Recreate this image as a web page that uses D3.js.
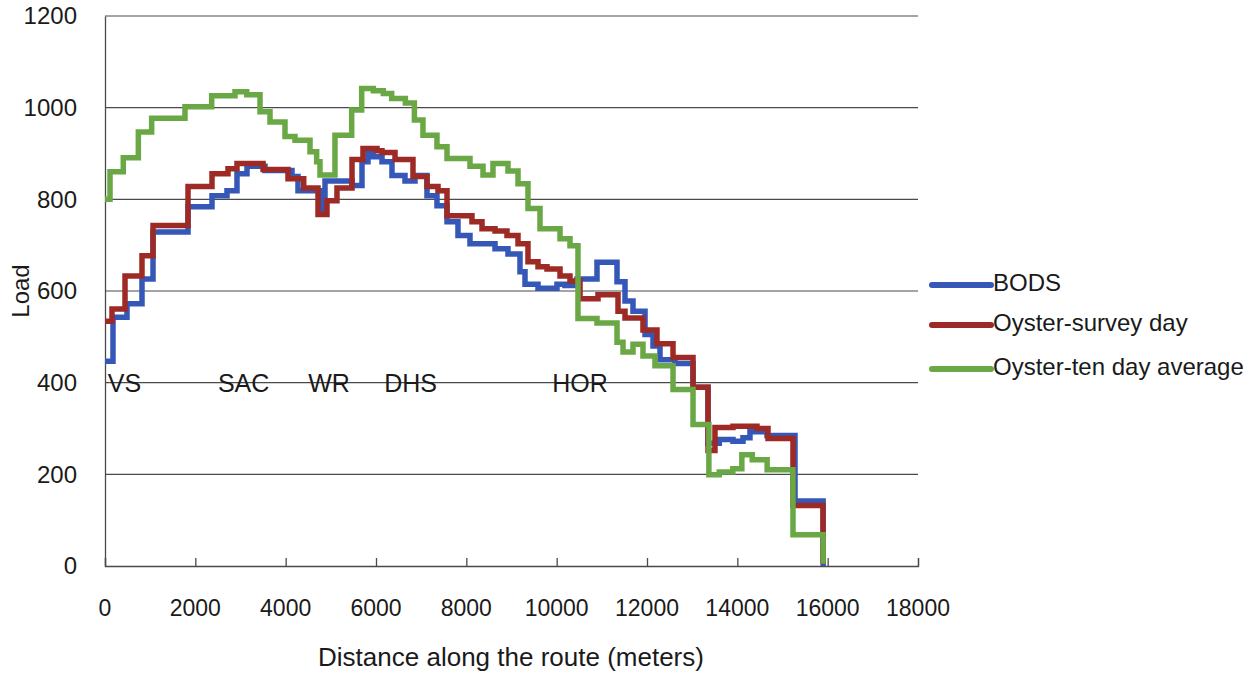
<!DOCTYPE html>
<html>
<head>
<meta charset="utf-8">
<script src="https://cdn.jsdelivr.net/npm/d3@7"></script>
<style>
  html, body { margin: 0; padding: 0; background: #ffffff; }
  svg { display: block; }
</style>
</head>
<body>
<svg id="chart" width="1257" height="675"></svg>
<script>
// ---- Data (distance in metres, load) : step series ----
const bodsSteps = [
  [0,447],[177,543],[487,572],[819,626],[1063,729],[1838,784],[2369,808],[2701,819],[2922,856],[3144,872],
  [3542,863],[4140,850],[4273,819],[4760,775],[4871,840],[5469,830],[5690,882],[5823,900],[5934,893],[6133,882],
  [6354,852],[6642,840],[6863,852],[7129,808],[7350,786],[7572,751],[7815,721],[8081,703],[8635,692],[8922,681],
  [9188,642],[9299,615],[9587,606],[10007,615],[10184,612],[10450,626],[10893,663],[11336,620],[11513,578],[11690,556],
  [11956,505],[12133,480],[12288,450],[12620,442],[13019,390],[13351,268],[13600,276],[13904,272],[14125,280],[14280,293],
  [14657,285],[15277,142],[15900,0]
];
const oysterSurveySteps = [
  [0,534],[155,561],[443,633],[819,677],[1063,743],[1838,828],[2369,856],[2723,867],[2922,878],[3500,865],
  [4052,845],[4400,825],[4716,767],[4915,797],[5136,825],[5469,887],[5712,911],[6022,906],[6133,902],[6421,887],
  [6819,850],[7129,828],[7373,819],[7572,764],[8125,751],[8347,736],[8635,731],[8900,721],[9144,703],[9365,664],
  [9587,653],[9786,648],[10074,633],[10295,622],[10517,583],[10915,592],[11358,556],[11513,541],[11911,515],[12221,485],
  [12576,455],[13019,390],[13351,252],[13505,302],[13904,305],[14435,300],[14679,278],[15232,132],[15897,5]
];
const oysterTenDaySteps = [
  [0,800],[111,860],[405,891],[738,947],[1033,977],[1771,1002],[2362,1026],[2878,1035],[3137,1028],[3432,991],
  [3653,969],[3985,937],[4207,929],[4539,904],[4686,882],[4760,853],[5092,940],[5462,995],[5683,1042],[5941,1037],
  [6162,1031],[6347,1020],[6650,1010],[6850,973],[7040,940],[7350,915],[7572,889],[8081,872],[8369,853],[8590,878],
  [8922,862],[9144,834],[9365,780],[9631,736],[10074,714],[10295,699],[10472,540],[10893,530],[11336,488],[11469,467],
  [11690,484],[11911,458],[12177,437],[12576,385],[13019,309],[13370,199],[13600,205],[13900,212],[14100,243],[14330,232],
  [14660,210],[15232,68],[15900,5]
];
const seriesNames = ["BODS", "Oyster-survey day", "Oyster-ten day average"];
const seriesColors = ["#3457b8", "#9e2a26", "#6aa845"];
const xTicks = [0,2000,4000,6000,8000,10000,12000,14000,16000,18000];
const yTicks = [0,200,400,600,800,1000,1200];
const stopLabels = ["VS","SAC","WR","DHS","HOR"];
const stopPositions = [60, 2500, 4500, 6180, 9900];
const stopLoad = 393;

// ---- Layout ----
const svg = d3.select("#chart");
const x = d3.scaleLinear().domain([0, 18000]).range([105, 918]);
const y = d3.scaleLinear().domain([0, 1200]).range([566, 16]);
const font = "'Liberation Sans',Arial,sans-serif";

// gridlines
svg.append("g").selectAll("line").data(yTicks.filter(d => d > 0)).join("line")
  .attr("x1", x(0)).attr("x2", x(18000))
  .attr("y1", d => y(d)).attr("y2", d => y(d))
  .attr("stroke", "#4a4a4a").attr("stroke-width", 1.2);

// x axis (ticks pointing inside)
const xAxis = d3.axisTop(x).tickValues(xTicks).tickSize(8).tickFormat("");
const gx = svg.append("g").attr("transform", `translate(0,${y(0)})`).call(xAxis);
gx.select(".domain").attr("stroke", "#4a4a4a").attr("stroke-width", 1.3);
gx.selectAll(".tick line").attr("stroke", "#4a4a4a").attr("stroke-width", 1.3);

// x labels
svg.append("g").selectAll("text").data(xTicks).join("text")
  .attr("x", d => x(d)).attr("y", 610)
  .attr("text-anchor", "middle").attr("dominant-baseline", "middle")
  .attr("font-family", font)
  .attr("font-size", 23).attr("fill", "#1a1a1a")
  .text(d => d);

// y axis
const yAxis = d3.axisLeft(y).tickValues(yTicks).tickSize(0).tickPadding(28).tickFormat(d => d);
const gy = svg.append("g").attr("transform", `translate(${x(0)},0)`).call(yAxis);
gy.select(".domain").attr("stroke", "#4a4a4a").attr("stroke-width", 1.3);
gy.selectAll(".tick text")
  .attr("font-family", font)
  .attr("font-size", 24).attr("fill", "#1a1a1a");

// axis titles
svg.append("text")
  .attr("transform", `translate(23,${y(600)}) rotate(-90)`)
  .attr("text-anchor", "middle").attr("dominant-baseline", "middle")
  .attr("font-family", font)
  .attr("font-size", 24).attr("fill", "#1a1a1a")
  .text("Load");
svg.append("text")
  .attr("x", 511).attr("y", 659)
  .attr("text-anchor", "middle").attr("dominant-baseline", "middle")
  .attr("font-family", font)
  .attr("font-size", 26).attr("fill", "#1a1a1a")
  .text("Distance along the route (meters)");

// series
const line = d3.line().x(d => x(d[0])).y(d => y(d[1])).curve(d3.curveStepAfter);
const allSeries = [bodsSteps, oysterSurveySteps, oysterTenDaySteps];
svg.append("g").selectAll("path").data(allSeries).join("path")
  .attr("d", d => line(d))
  .attr("fill", "none")
  .attr("stroke", (d, i) => seriesColors[i])
  .attr("stroke-width", 5.5)
  .attr("stroke-linejoin", "miter");

// stop annotations
svg.append("g").selectAll("text").data(stopLabels).join("text")
  .attr("x", (d, i) => x(stopPositions[i])).attr("y", y(stopLoad))
  .attr("dominant-baseline", "middle")
  .attr("font-family", font)
  .attr("font-size", 25).attr("fill", "#1a1a1a")
  .text(d => d);

// legend
const legend = svg.append("g");
const legendY = [285, 325, 369];
seriesNames.forEach((name, i) => {
  legend.append("line")
    .attr("x1", 932).attr("x2", 991)
    .attr("y1", legendY[i]).attr("y2", legendY[i])
    .attr("stroke", seriesColors[i]).attr("stroke-width", 6)
    .attr("stroke-linecap", "round");
  legend.append("text")
    .attr("x", 993).attr("y", legendY[i])
    .attr("dominant-baseline", "middle")
    .attr("font-family", font)
    .attr("font-size", 24).attr("fill", "#1a1a1a")
    .text(name);
});
</script>
</body>
</html>
